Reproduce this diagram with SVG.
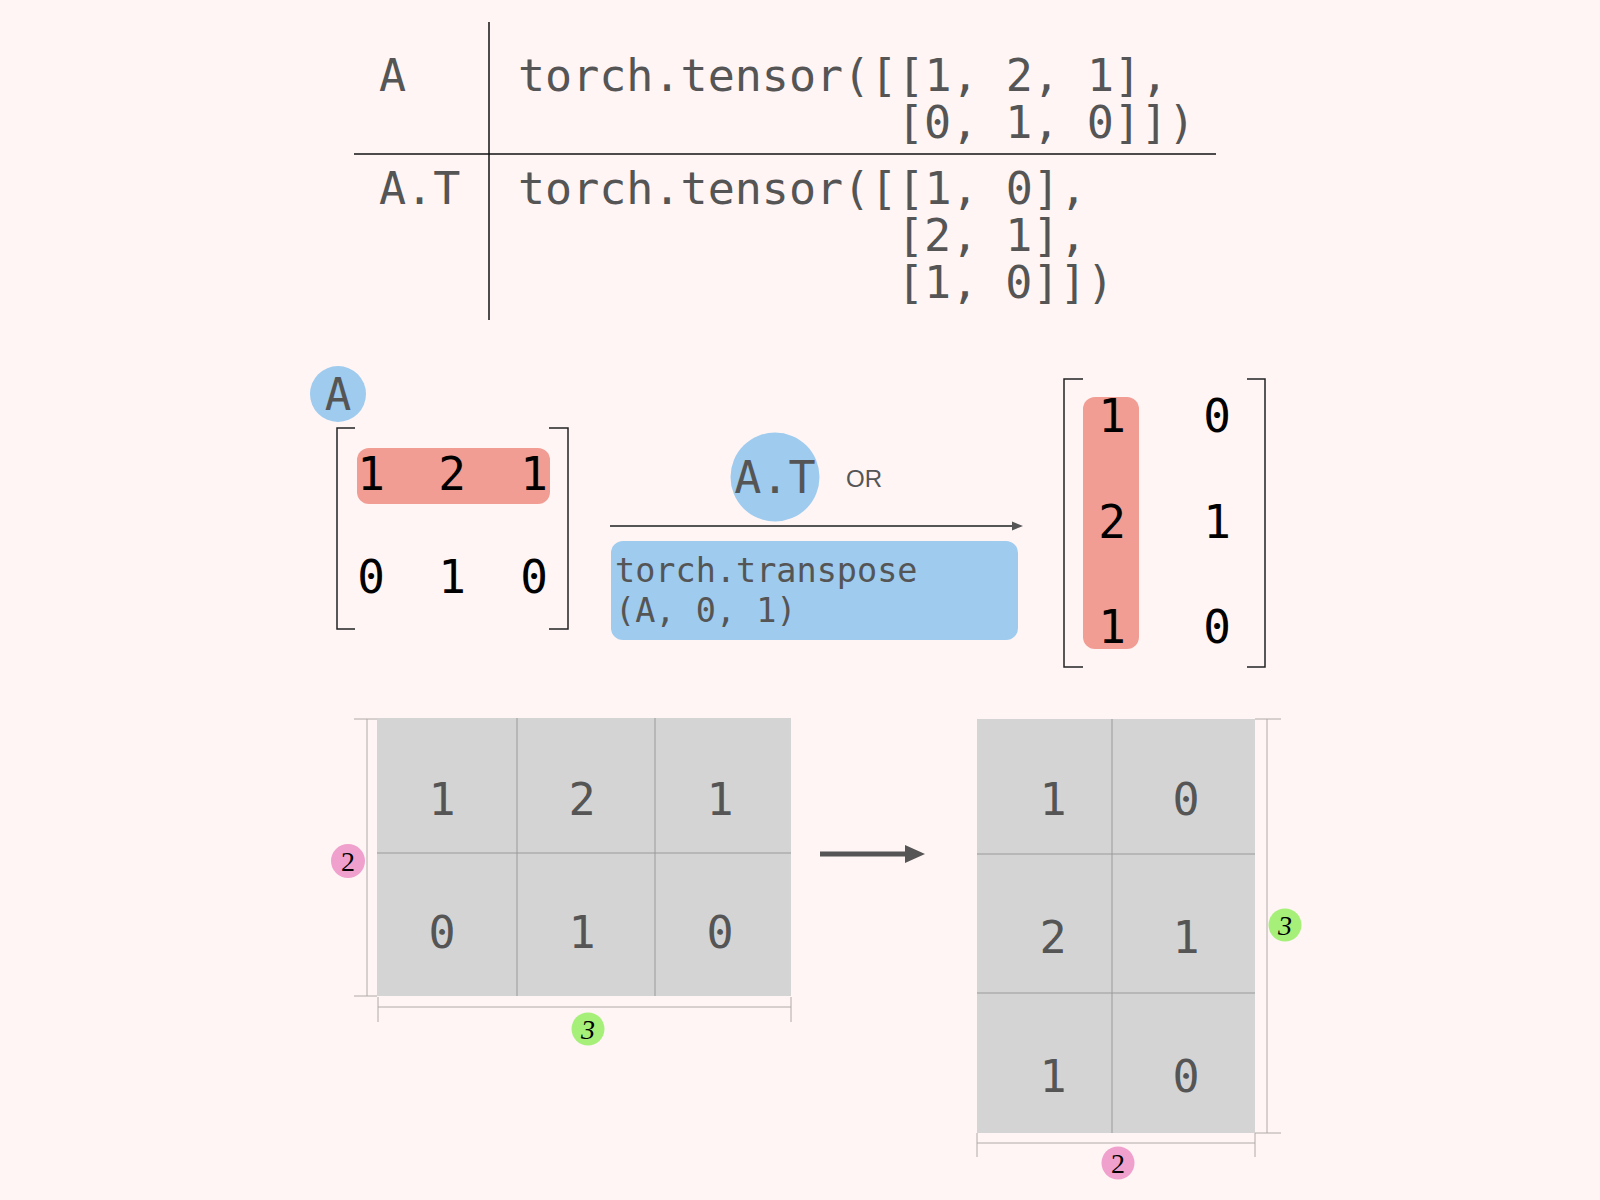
<svg xmlns="http://www.w3.org/2000/svg" width="1600" height="1200" viewBox="0 0 1600 1200">
<defs>
<style>
.mono{font-family:"DejaVu Sans Mono","Liberation Mono",monospace;}
.code{font-size:45px;fill:#555;}
.num{font-size:46px;fill:#000;text-anchor:middle;}
.gnum{font-size:45px;fill:#555;text-anchor:middle;}
.rule{stroke:#111;stroke-width:1.5;fill:none;}
.brk{stroke:#222;stroke-width:1.5;fill:none;}
.grid{fill:#d4d4d4;}
.gline{stroke:#9a9a9a;stroke-width:1;}
.dim{stroke:#b0a8a8;stroke-width:1;fill:none;}
.dlab{font-family:"Liberation Serif","Times New Roman",serif;font-size:28px;fill:#000;text-anchor:middle;}
.blue{fill:#9ecbee;}
.red{fill:#f19d93;}
.pink{fill:#f0a0cc;}
.green{fill:#a6f07a;}
</style>
</defs>
<rect width="1600" height="1200" fill="#fff5f5"/>

<g id="table">
<line class="rule" x1="489" y1="22" x2="489" y2="320"/>
<line class="rule" x1="354" y1="154" x2="1216" y2="154"/>
<text class="mono code" x="379" y="91">A</text>
<text class="mono code" x="518" y="91">torch.tensor([[1, 2, 1],</text>
<text class="mono code" x="897" y="138">[0, 1, 0]])</text>
<text class="mono code" x="379" y="204">A.T</text>
<text class="mono code" x="518" y="204">torch.tensor([[1, 0],</text>
<text class="mono code" x="897" y="251">[2, 1],</text>
<text class="mono code" x="897" y="298">[1, 0]])</text>
</g>

<g id="matrixA">
<circle class="blue" cx="338" cy="394" r="28"/>
<text class="mono" x="338" y="410" font-size="44" fill="#555" text-anchor="middle">A</text>
<path class="brk" d="M355,428 H337 V629 H355"/>
<path class="brk" d="M549,428 H568 V629 H549"/>
<rect class="red" x="357" y="448" width="193" height="56" rx="12"/>
<text class="mono num" x="371" y="490">1</text>
<text class="mono num" x="452" y="490">2</text>
<text class="mono num" x="534" y="490">1</text>
<text class="mono num" x="371" y="593">0</text>
<text class="mono num" x="452" y="593">1</text>
<text class="mono num" x="534" y="593">0</text>
</g>

<g id="transposeOp">
<circle class="blue" cx="775" cy="477" r="44.5"/>
<text class="mono" x="775" y="493" font-size="45" fill="#555" text-anchor="middle">A.T</text>
<text x="846" y="487" font-family="'Liberation Sans',Arial,sans-serif" font-size="24" fill="#555">OR</text>
<rect class="blue" x="611" y="541" width="407" height="99" rx="12"/>
<text class="mono" x="615" y="582" font-size="33.5" fill="#555">torch.transpose</text>
<text class="mono" x="615" y="622" font-size="33.5" fill="#555">(A, 0, 1)</text>
</g>

<g id="matrixAT">
<path class="brk" d="M1083,379 H1064 V667 H1083"/>
<path class="brk" d="M1247,379 H1265 V667 H1247"/>
<rect class="red" x="1083" y="397" width="56" height="252" rx="12"/>
<text class="mono num" x="1112" y="432">1</text>
<text class="mono num" x="1217" y="432">0</text>
<text class="mono num" x="1112" y="538">2</text>
<text class="mono num" x="1217" y="538">1</text>
<text class="mono num" x="1112" y="643">1</text>
<text class="mono num" x="1217" y="643">0</text>
</g>

<g id="gridA">
<rect class="grid" x="377" y="718" width="414" height="278"/>
<line class="gline" x1="517" y1="718" x2="517" y2="996"/>
<line class="gline" x1="655" y1="718" x2="655" y2="996"/>
<line class="gline" x1="377" y1="853" x2="791" y2="853"/>
<text class="mono gnum" x="442" y="815">1</text>
<text class="mono gnum" x="582" y="815">2</text>
<text class="mono gnum" x="720" y="815">1</text>
<text class="mono gnum" x="442" y="948">0</text>
<text class="mono gnum" x="582" y="948">1</text>
<text class="mono gnum" x="720" y="948">0</text>
<path class="dim" d="M354,719 H377 M354,996 H377 M367,719 V996"/>
<path class="dim" d="M378,997 V1022 M791,997 V1022 M378,1007 H791"/>
<circle class="pink" cx="348" cy="861" r="17"/>
<text class="dlab" x="348" y="871">2</text>
<circle class="green" cx="588" cy="1029" r="16.5"/>
<text class="dlab" x="588" y="1039" font-style="italic">3</text>
</g>

<g id="gridAT">
<rect class="grid" x="977" y="719" width="278" height="414"/>
<line class="gline" x1="1112" y1="719" x2="1112" y2="1133"/>
<line class="gline" x1="977" y1="854" x2="1255" y2="854"/>
<line class="gline" x1="977" y1="993" x2="1255" y2="993"/>
<text class="mono gnum" x="1053" y="815">1</text>
<text class="mono gnum" x="1186" y="815">0</text>
<text class="mono gnum" x="1053" y="953">2</text>
<text class="mono gnum" x="1186" y="953">1</text>
<text class="mono gnum" x="1053" y="1092">1</text>
<text class="mono gnum" x="1186" y="1092">0</text>
<path class="dim" d="M1255,719 H1281 M1255,1133 H1281 M1267,719 V1133"/>
<path class="dim" d="M977,1133 V1157 M1255,1133 V1157 M977,1143 H1255"/>
<circle class="green" cx="1285" cy="925" r="16.5"/>
<text class="dlab" x="1285" y="935" font-style="italic">3</text>
<circle class="pink" cx="1118" cy="1163" r="16.5"/>
<text class="dlab" x="1118" y="1173">2</text>
</g>

<g id="connectors">
<line x1="610" y1="526" x2="1014" y2="526" stroke="#555" stroke-width="2"/>
<polygon points="1012,521.5 1023,526 1012,530.5" fill="#555"/>
<line x1="820" y1="854" x2="907" y2="854" stroke="#555" stroke-width="5"/>
<polygon points="905,845 925,854 905,863" fill="#555"/>
</g>
</svg>
